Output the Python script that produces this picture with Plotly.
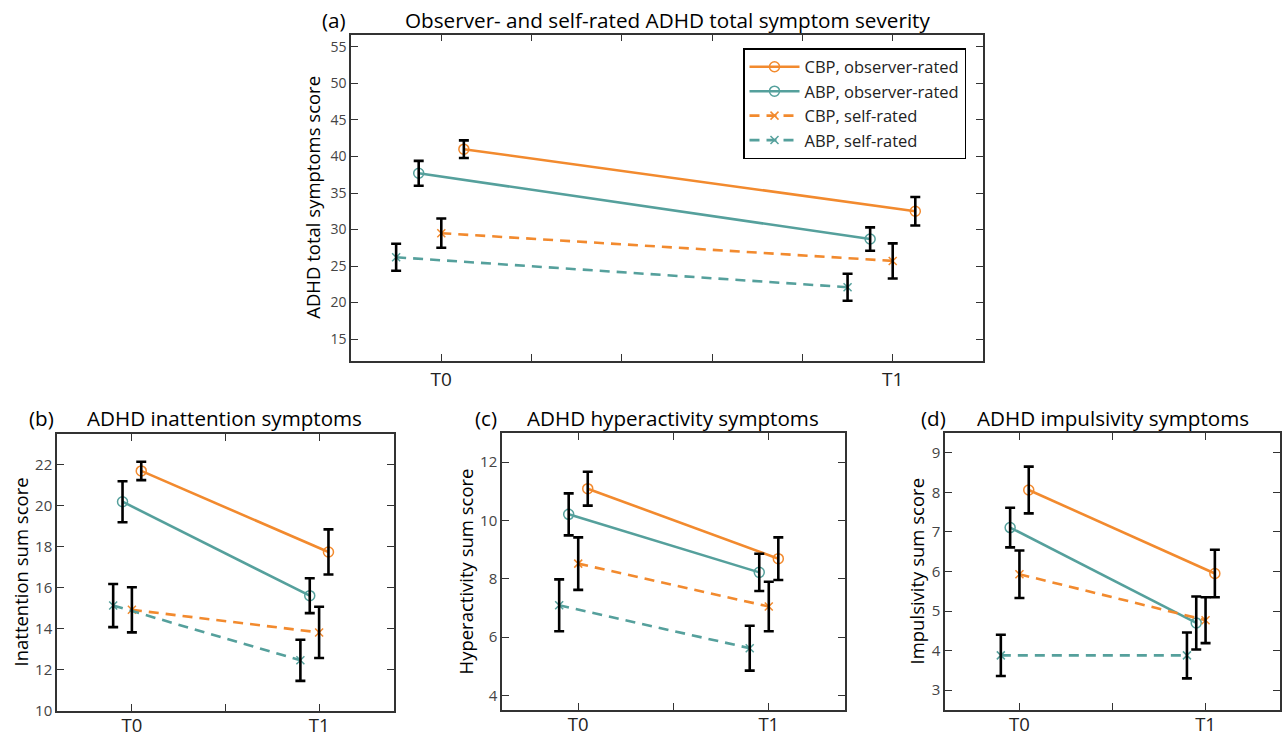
import plotly.graph_objects as go

# ---------------- data ----------------
timepoints = ["T0", "T1"]
series_names = ["CBP, observer-rated", "ABP, observer-rated", "CBP, self-rated", "ABP, self-rated"]

# panel (a) total symptoms
a_cbp_obs = [41.0, 32.5]
a_cbp_obs_err = [1.2, 1.95]
a_abp_obs = [37.7, 28.7]
a_abp_obs_err = [1.7, 1.6]
a_cbp_self = [29.5, 25.7]
a_cbp_self_err = [2.0, 2.4]
a_abp_self = [26.2, 22.1]
a_abp_self_err = [1.85, 1.85]

# panel (b) inattention
b_cbp_obs = [21.7, 17.75]
b_cbp_obs_err = [0.45, 1.1]
b_abp_obs = [20.2, 15.62]
b_abp_obs_err = [1.0, 0.85]
b_cbp_self = [14.93, 13.83]
b_cbp_self_err = [1.1, 1.25]
b_abp_self = [15.14, 12.47]
b_abp_self_err = [1.05, 1.0]

# panel (c) hyperactivity
c_cbp_obs = [11.09, 8.69]
c_cbp_obs_err = [0.58, 0.73]
c_abp_obs = [10.21, 8.22]
c_abp_obs_err = [0.72, 0.64]
c_cbp_self = [8.52, 7.05]
c_cbp_self_err = [0.9, 0.85]
c_abp_self = [7.09, 5.62]
c_abp_self_err = [0.89, 0.77]

# panel (d) impulsivity
d_cbp_obs = [8.06, 5.95]
d_cbp_obs_err = [0.59, 0.6]
d_abp_obs = [7.11, 4.70]
d_abp_obs_err = [0.5, 0.67]
d_cbp_self = [5.93, 4.77]
d_cbp_self_err = [0.6, 0.58]
d_abp_self = [3.88, 3.88]
d_abp_self_err = [0.52, 0.58]

# ---------------- styling ----------------
ORANGE = "#F28A2E"
TEAL = "#55A09C"
FONT = "Open Sans"
W, H = 1282, 738

styles = [
    dict(color=ORANGE, dash="solid", symbol="circle-open", size=10, offset=0.05),
    dict(color=TEAL, dash="solid", symbol="circle-open", size=10, offset=-0.05),
    dict(color=ORANGE, dash="10px,7px", symbol="x-thin-open", size=8, offset=0.0),
    dict(color=TEAL, dash="10px,7px", symbol="x-thin-open", size=8, offset=-0.1),
]

panels = [
    dict(key="", vals=[a_cbp_obs, a_abp_obs, a_cbp_self, a_abp_self],
         errs=[a_cbp_obs_err, a_abp_obs_err, a_cbp_self_err, a_abp_self_err],
         xdom=[351 / W, 983 / W], ydom=[1 - 361 / H, 1 - 34.5 / H],
         xr=[-0.2, 1.2], xt=[0, 0.2, 0.4, 0.6, 0.8, 1.0],
         yr=[12, 56.7], yt=list(range(15, 60, 5)),
         title="Observer- and self-rated ADHD total symptom severity", letter="(a)",
         tx=667, lx=334, ty=20, ytitle="ADHD total symptoms score", ytx=313, tfs=20.7,
         tickfs=14, xtickfs=19, xso=0),
    dict(key="2", vals=[b_cbp_obs, b_abp_obs, b_cbp_self, b_abp_self],
         errs=[b_cbp_obs_err, b_abp_obs_err, b_cbp_self_err, b_abp_self_err],
         xdom=[57 / W, 394 / W], ydom=[1 - 711 / H, 1 - 434 / H],
         xr=[-0.4, 1.4], xt=[0, 0.5, 1.0],
         yr=[10, 23.5], yt=list(range(10, 24, 2)),
         title="ADHD inattention symptoms", letter="(b)",
         tx=225, lx=41, ty=418, ytitle="Inattention sum score", ytx=20, tfs=20.6,
         tickfs=15, xtickfs=18.5, xso=-3),
    dict(key="3", vals=[c_cbp_obs, c_abp_obs, c_cbp_self, c_abp_self],
         errs=[c_cbp_obs_err, c_abp_obs_err, c_cbp_self_err, c_abp_self_err],
         xdom=[502 / W, 845 / W], ydom=[1 - 710 / H, 1 - 433 / H],
         xr=[-0.4, 1.4], xt=[0, 0.5, 1.0],
         yr=[3.5, 13], yt=list(range(4, 13, 2)),
         title="ADHD hyperactivity symptoms", letter="(c)",
         tx=673, lx=486, ty=418, ytitle="Hyperactivity sum score", ytx=465, tfs=20.6,
         tickfs=15, xtickfs=18.5, xso=-3),
    dict(key="4", vals=[d_cbp_obs, d_abp_obs, d_cbp_self, d_abp_self],
         errs=[d_cbp_obs_err, d_abp_obs_err, d_cbp_self_err, d_abp_self_err],
         xdom=[945 / W, 1280 / W], ydom=[1 - 710 / H, 1 - 433 / H],
         xr=[-0.4, 1.4], xt=[0, 0.5, 1.0],
         yr=[2.5, 9.5], yt=list(range(3, 10, 1)),
         title="ADHD impulsivity symptoms", letter="(d)",
         tx=1113, lx=933, ty=418, ytitle="Impulsivity sum score", ytx=916, tfs=20.6,
         tickfs=15, xtickfs=18.5, xso=-3),
]

fig = go.Figure()
annotations = []
base_x = [0, 1]

for pi, p in enumerate(panels):
    xa = "x" + p["key"]
    ya = "y" + p["key"]
    # lines with markers
    for si, st in enumerate(styles):
        xs = [b + st["offset"] for b in base_x]
        fig.add_trace(go.Scatter(
            x=xs, y=p["vals"][si], mode="lines+markers", name=series_names[si],
            showlegend=(pi == 0), legendrank=si + 1,
            line=dict(color=st["color"], width=2.6, dash=st["dash"]),
            marker=dict(symbol=st["symbol"], size=st["size"], color=st["color"],
                        line=dict(color=st["color"], width=1.5)),
            xaxis=xa, yaxis=ya, hoverinfo="skip"))
    # error bars on top
    for si, st in enumerate(styles):
        xs = [b + st["offset"] for b in base_x]
        fig.add_trace(go.Scatter(
            x=xs, y=p["vals"][si], mode="markers", showlegend=False,
            marker=dict(size=1, color="rgba(0,0,0,0)"),
            error_y=dict(type="data", array=p["errs"][si], visible=True,
                         color="black", thickness=2.6, width=5),
            xaxis=xa, yaxis=ya, hoverinfo="skip"))

    ax_common = dict(showline=True, linecolor="#333333", linewidth=1.5, mirror="ticks",
                     ticks="inside", ticklen=7, tickwidth=1.3, tickcolor="#333333",
                     showgrid=False, zeroline=False, automargin=False)
    ticktext = ["T0"] + [""] * (len(p["xt"]) - 2) + ["T1"]
    fig.update_layout(**{
        ("xaxis" + p["key"]): dict(domain=p["xdom"], range=p["xr"], tickvals=p["xt"],
                                   ticktext=ticktext, anchor=ya, ticklabelstandoff=p["xso"],
                                   tickfont=dict(family=FONT, size=p["xtickfs"], color="#222"),
                                   **ax_common),
        ("yaxis" + p["key"]): dict(domain=p["ydom"], range=p["yr"], tickvals=p["yt"],
                                   anchor=xa,
                                   tickfont=dict(family=FONT, size=p["tickfs"], color="#444"),
                                   **ax_common),
    })
    annotations.append(dict(text=p["title"], x=p["tx"] / W, y=1 - p["ty"] / H, xref="paper", yref="paper",
                            xanchor="center", yanchor="middle", showarrow=False,
                            font=dict(family=FONT, size=p["tfs"], color="black")))
    annotations.append(dict(text=p["letter"], x=p["lx"] / W, y=1 - p["ty"] / H, xref="paper", yref="paper",
                            xanchor="center", yanchor="middle", showarrow=False,
                            font=dict(family=FONT, size=p["tfs"], color="black")))
    yc = (p["ydom"][0] + p["ydom"][1]) / 2
    annotations.append(dict(text=p["ytitle"], x=p["ytx"] / W, y=yc, xref="paper", yref="paper",
                            xanchor="center", yanchor="middle", showarrow=False, textangle=-90,
                            font=dict(family=FONT, size=18.5, color="black")))

fig.update_layout(
    width=W, height=H, margin=dict(l=0, r=0, t=0, b=0),
    paper_bgcolor="white", plot_bgcolor="white",
    annotations=annotations,
    legend=dict(x=743 / W, y=1 - 48 / H, xanchor="left", yanchor="top",
                bordercolor="black", borderwidth=1.5, bgcolor="white",
                font=dict(family=FONT, size=16.5, color="#222"), tracegroupgap=0,
                itemwidth=50),
)

fig.write_html("out.html", config={"displayModeBar": False},
               post_script="document.body.style.margin='0';document.body.style.overflow='hidden';")
